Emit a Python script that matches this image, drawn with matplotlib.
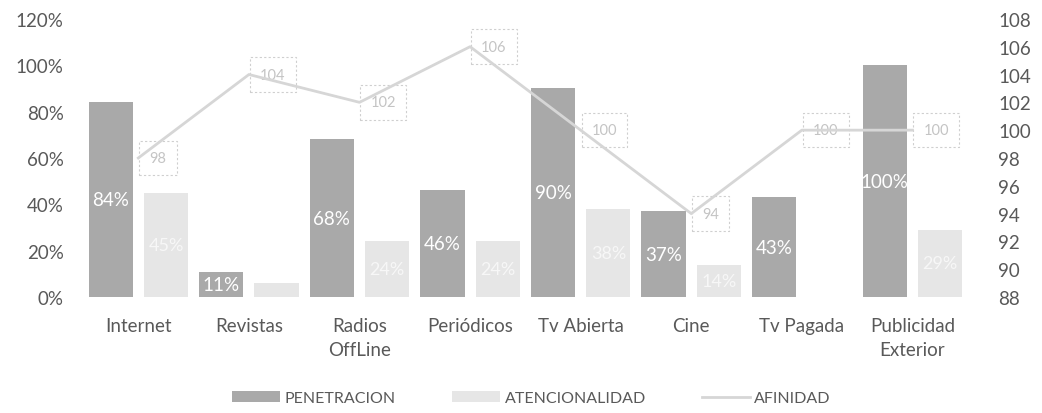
import matplotlib
matplotlib.use("Agg")
import matplotlib.pyplot as plt
import numpy as np
from matplotlib.ticker import FuncFormatter

plt.rcParams['font.family'] = ['Lato', 'DejaVu Sans']

categories = ["Internet", "Revistas", "Radios\nOffLine", "Periódicos", "Tv Abierta",
              "Cine", "Tv Pagada", "Publicidad\nExterior"]
penetracion = [84, 11, 68, 46, 90, 37, 43, 100]
atencionalidad = [45, 6, 24, 24, 38, 14, 0, 29]
afinidad = [98, 104, 102, 106, 100, 94, 100, 100]

pen_color = "#a9a9a9"
aten_color = "#e6e6e6"
line_color = "#d6d6d6"
text_color = "#595959"

fig = plt.figure(figsize=(10.42, 4.14), dpi=100)
ax = fig.add_axes([0.0797, 0.28, 0.849, 0.672])
ax2 = ax.twinx()

x = np.arange(len(categories))
w = 0.40
off = 0.25

b1 = ax.bar(x - off, penetracion, w, color=pen_color, label="PENETRACION", zorder=2)
b2 = ax.bar(x + off, atencionalidad, w, color=aten_color, label="ATENCIONALIDAD", zorder=2)

for rect, v in zip(b1, penetracion):
    ax.text(rect.get_x() + rect.get_width() / 2, v / 2, f"{v}%", ha="center", va="center",
            color="white", fontsize=13.5, zorder=3)
for rect, v in zip(b2, atencionalidad):
    if v >= 10:
        ax.text(rect.get_x() + rect.get_width() / 2, v / 2, f"{v}%", ha="center", va="center",
                color="#f7f7f7", fontsize=13, zorder=3)

ln, = ax2.plot(x, afinidad, color=line_color, lw=2, label="AFINIDAD", zorder=4)
for xi, v in zip(x, afinidad):
    ax2.annotate(f"{v}", (xi, v), xytext=(8, 0), textcoords="offset points",
                 ha="left", va="center", fontsize=10.5, color="#c4c4c4",
                 bbox=dict(boxstyle="square,pad=0.7", fc="white", ec="#cfcfcf",
                           ls=(0, (2, 2)), lw=0.8))

ax.set_xlim(-0.5, len(categories) - 0.5)
ax.set_ylim(0, 120)
ax.set_yticks(np.arange(0, 121, 20))
ax.yaxis.set_major_formatter(FuncFormatter(lambda v, p: f"{int(v)}%"))
ax2.set_ylim(88, 108)
ax2.set_yticks(np.arange(88, 109, 2))

ax.set_xticks(x)
ax.set_xticklabels(categories, fontsize=13.5, color=text_color, linespacing=1.55)
ax.tick_params(axis="x", length=0, pad=14)
ax.tick_params(axis="y", length=0, pad=14, labelsize=13.5, labelcolor=text_color)
ax2.tick_params(axis="y", length=0, pad=22, labelsize=13.5, labelcolor=text_color)

for a in (ax, ax2):
    for s in a.spines.values():
        s.set_visible(False)

fig.legend(handles=[b1, b2, ln], loc="center", bbox_to_anchor=(0.51, 1 - 399 / 414),
           ncol=3, frameon=False, fontsize=11.5, labelcolor=text_color,
           handlelength=3.0, columnspacing=3.5, handletextpad=0.3)

fig.savefig("out.png", dpi=100)
